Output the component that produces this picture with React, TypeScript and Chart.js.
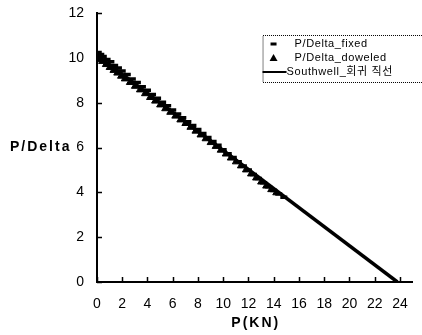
import React, { useEffect, useRef } from "react";
import { Chart, registerables } from "chart.js";

Chart.register(...registerables);

const fixedP = [0.1, 0.3, 0.5, 0.8, 1.1, 1.4, 1.7, 2.0, 2.4, 2.8, 3.2, 3.6, 4.0, 4.4, 4.8, 5.2, 5.6, 6.0, 6.4, 6.8, 7.2, 7.6, 8.0, 8.4, 8.8, 9.2, 9.6, 10.0, 10.4, 10.8, 11.2, 11.6, 12.0, 12.4, 12.8, 13.2, 13.6, 14.0, 14.4, 14.8];
const fixedPD = [10.24, 10.15, 10.06, 9.93, 9.82, 9.66, 9.55, 9.41, 9.26, 9.06, 8.9, 8.71, 8.55, 8.36, 8.2, 8.02, 7.86, 7.67, 7.5, 7.33, 7.15, 6.98, 6.8, 6.62, 6.45, 6.27, 6.1, 5.9, 5.72, 5.55, 5.36, 5.18, 5.0, 4.8, 4.62, 4.43, 4.25, 4.08, 3.93, 3.78];

const dowelP = [0.2, 0.4, 0.7, 1.0, 1.3, 1.6, 1.9, 2.2, 2.6, 3.0, 3.4, 3.8, 4.2, 4.6, 5.0, 5.4, 5.8, 6.2, 6.6, 7.0, 7.4, 7.8, 8.2, 8.6, 9.0, 9.4, 9.8, 10.2, 10.6, 11.0, 11.4, 11.8, 12.2, 12.6, 13.0, 13.4, 13.8, 14.2];
const dowelPD = [9.93, 9.84, 9.7, 9.57, 9.44, 9.32, 9.18, 9.06, 8.9, 8.73, 8.57, 8.4, 8.23, 8.07, 7.9, 7.73, 7.57, 7.4, 7.23, 7.07, 6.9, 6.73, 6.56, 6.39, 6.22, 6.05, 5.88, 5.71, 5.53, 5.36, 5.18, 5.0, 4.82, 4.64, 4.46, 4.28, 4.12, 3.98];

const southwellP = [0, 23.8];
const southwellPD = [10.12, 0];

const xTicks = [0, 2, 4, 6, 8, 10, 12, 14, 16, 18, 20, 22, 24];
const yTicks = [0, 2, 4, 6, 8, 10, 12];

const labels = ["P/Delta_fixed", "P/Delta_doweled", "Southwell_회귀 직선"];
const yTitle = "P/Delta";
const xTitle = "P(KN)";

const FONT = "'Liberation Sans', Arial, 'Noto Sans CJK KR', sans-serif";

const legendPlugin = {
  id: "boxLegend",
  afterDraw(chart: any) {
    const ctx = chart.ctx;
    const ca = chart.chartArea;
    const left = ca.right - 150;
    const top = ca.top + 22;
    const w = 180;
    const h = 47;
    ctx.save();
    ctx.strokeStyle = "#000";
    ctx.lineWidth = 1;
    ctx.setLineDash([1, 1]);
    ctx.strokeRect(left + 0.5, top + 0.5, w, h);
    ctx.setLineDash([]);
    ctx.fillStyle = "#000";
    ctx.font = "11px " + FONT;
    (ctx as any).letterSpacing = "0.6px";
    ctx.textBaseline = "middle";
    const rows = [top + 9, top + 23, top + 37];
    ctx.fillRect(left + 8, rows[0] - 1.5, 6, 3);
    ctx.beginPath();
    ctx.moveTo(left + 11, rows[1] - 4);
    ctx.lineTo(left + 15, rows[1] + 3);
    ctx.lineTo(left + 7, rows[1] + 3);
    ctx.closePath();
    ctx.fill();
    ctx.lineWidth = 2;
    ctx.beginPath();
    ctx.moveTo(left, rows[2]);
    ctx.lineTo(left + 24, rows[2]);
    ctx.stroke();
    const ds = chart.data.datasets;
    ctx.fillText(ds[0].label, left + 32, rows[0]);
    ctx.fillText(ds[1].label, left + 32, rows[1]);
    ctx.fillText(ds[2].label, left + 24, rows[2]);
    ctx.restore();
  },
};

const axisDecorPlugin = {
  id: "axisDecor",
  afterDraw(chart: any) {
    const ctx = chart.ctx;
    const xs = chart.scales.x;
    const ys = chart.scales.y;
    const ca = chart.chartArea;
    ctx.save();
    ctx.strokeStyle = "#000";
    ctx.lineWidth = 1.5;
    ctx.beginPath();
    xs.ticks.forEach((t: any) => {
      const px = Math.round(xs.getPixelForValue(t.value)) + 0.5;
      ctx.moveTo(px, ca.bottom);
      ctx.lineTo(px, ca.bottom - 5);
    });
    ys.ticks.forEach((t: any) => {
      const py = Math.round(ys.getPixelForValue(t.value)) + 0.5;
      ctx.moveTo(ca.left, py);
      ctx.lineTo(ca.left + 5, py);
    });
    ctx.stroke();
    ctx.fillStyle = "#000";
    ctx.font = "bold 14px " + FONT;
    (ctx as any).letterSpacing = "2px";
    ctx.textBaseline = "middle";
    ctx.textAlign = "left";
    ctx.fillText(yTitle, 10, ys.getPixelForValue(6));
    ctx.textAlign = "center";
    ctx.fillText(xTitle, (ca.left + ca.right) / 2 + 1, 323);
    ctx.restore();
  },
};

export default function App() {
  const ref = useRef<HTMLCanvasElement | null>(null);
  useEffect(() => {
    if (!ref.current) return;
    const chart = new Chart(ref.current, {
      type: "scatter",
      data: {
        datasets: [
          {
            label: labels[0],
            data: fixedP.map((x, i) => ({ x, y: fixedPD[i] })),
            pointStyle: "line",
            pointRadius: 3.5,
            borderWidth: 3.5,
            borderColor: "#000",
            backgroundColor: "#000",
          },
          {
            label: labels[1],
            data: dowelP.map((x, i) => ({ x, y: dowelPD[i] })),
            pointStyle: "triangle",
            pointRadius: 4,
            borderWidth: 1,
            borderColor: "#000",
            backgroundColor: "#000",
          },
          {
            label: labels[2],
            type: "line",
            data: southwellP.map((x, i) => ({ x, y: southwellPD[i] })),
            showLine: true,
            pointRadius: 0,
            borderWidth: 3.5,
            borderColor: "#000",
            backgroundColor: "#000",
          },
        ],
      } as any,
      options: {
        animation: false,
        responsive: true,
        maintainAspectRatio: false,
        layout: { padding: { top: 13, right: 0, left: 0, bottom: 0 } },
        plugins: {
          legend: { display: false },
          tooltip: { enabled: false },
        },
        scales: {
          x: {
            type: "linear",
            min: 0,
            max: 25,
            afterBuildTicks: (s: any) => {
              s.ticks = xTicks.map((v) => ({ value: v }));
            },
            afterFit: (s: any) => {
              s.height = 53;
            },
            ticks: {
              color: "#000",
              font: { family: FONT, size: 14 },
              padding: 14,
              maxRotation: 0,
              autoSkip: false,
            },
            grid: { drawOnChartArea: false, drawTicks: false },
            border: { color: "#000", width: 2 },
          },
          y: {
            type: "linear",
            min: 0,
            max: 12,
            afterBuildTicks: (s: any) => {
              s.ticks = yTicks.map((v) => ({ value: v }));
            },
            afterFit: (s: any) => {
              s.width = 97;
              s.paddingTop = 7;
              s.paddingBottom = 7;
            },
            ticks: {
              color: "#000",
              font: { family: FONT, size: 14 },
              padding: 13,
            },
            grid: { drawOnChartArea: false, drawTicks: false },
            border: { color: "#000", width: 2 },
          },
        },
      } as any,
      plugins: [legendPlugin, axisDecorPlugin],
    });
    return () => chart.destroy();
  }, []);
  return (
    <div style={{ position: "absolute", left: 0, top: 0, width: 422, height: 335, background: "#fff" }}>
      <canvas ref={ref} />
    </div>
  );
}
